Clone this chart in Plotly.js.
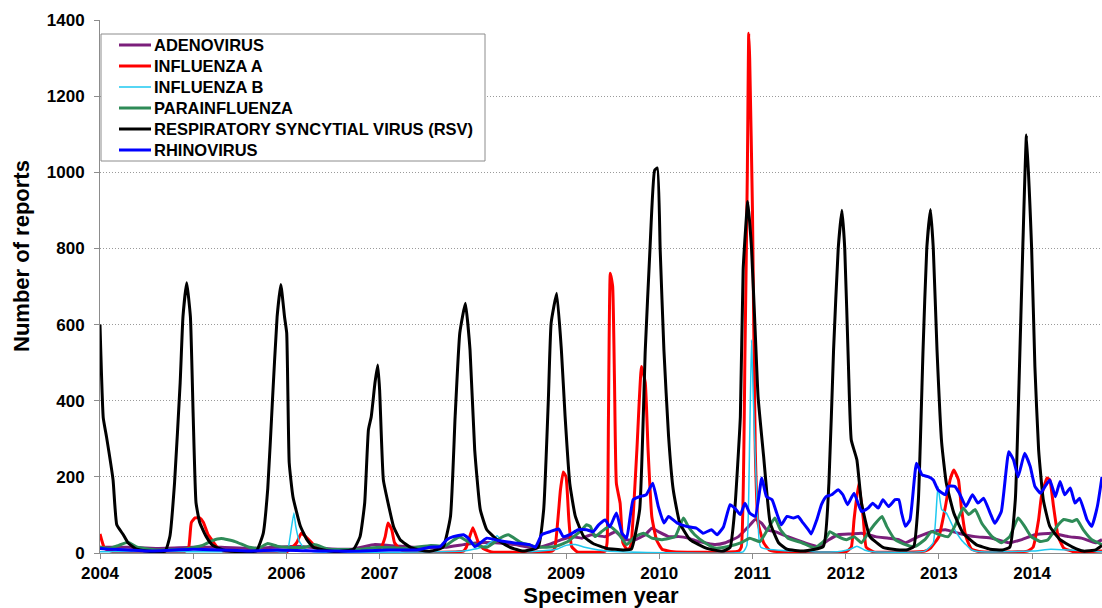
<!DOCTYPE html>
<html>
<head>
<meta charset="utf-8">
<script src="https://cdn.plot.ly/plotly-3.0.1.min.js"></script>
<style>html,body{margin:0;padding:0;background:#fff;}#chart{width:1102px;height:608px;}</style>
</head>
<body>
<div id="chart"></div>
<script>
// Tick labels
const yearTicks = [2004, 2005, 2006, 2007, 2008, 2009, 2010, 2011, 2012, 2013, 2014];

// Series names (legend order)
const seriesNames = ['ADENOVIRUS', 'INFLUENZA A', 'INFLUENZA B', 'PARAINFLUENZA', 'RESPIRATORY SYNCYTIAL VIRUS (RSV)', 'RHINOVIRUS'];

// ADENOVIRUS
const adenoX = [2004.0,2004.3,2004.6,2005.0,2005.3,2005.6,2005.9,2006.1,2006.4,2006.7,2006.95,2007.1,2007.4,2007.7,2007.9,2008.05,2008.24,2008.45,2008.67,2008.81,2008.95,2009.06,2009.17,2009.27,2009.42,2009.53,2009.63,2009.74,2009.85,2009.92,2009.99,2010.10,2010.21,2010.31,2010.42,2010.49,2010.60,2010.71,2010.85,2010.96,2011.03,2011.10,2011.15,2011.24,2011.38,2011.56,2011.71,2011.82,2011.92,2012.06,2012.17,2012.32,2012.46,2012.57,2012.64,2012.78,2012.92,2013.07,2013.21,2013.39,2013.57,2013.75,2013.89,2014.03,2014.21,2014.39,2014.53,2014.68,2014.75];
const adenoY = [15,15,12,15,15,12,15,18,12,10,22,20,15,15,22,27,27,22,13,22,35,43,39,48,43,56,35,35,48,65,56,43,43,39,30,27,22,27,43,70,88,78,61,56,43,27,17,35,48,50,52,43,39,35,27,43,56,61,52,43,39,27,35,48,52,43,39,27,35];

// INFLUENZA A
const fluAX = [2004.0,2004.05,2004.15,2004.9,2004.95,2004.98,2005.02,2005.07,2005.11,2005.16,2005.20,2005.25,2005.32,2006.0,2006.04,2006.11,2006.16,2006.22,2006.29,2006.36,2006.45,2006.95,2007.02,2007.06,2007.09,2007.13,2007.16,2007.22,2007.3,2007.9,2007.93,2008.0,2008.06,2008.11,2008.2,2008.85,2008.88,2008.94,2008.97,2009.0,2009.03,2009.06,2009.12,2009.42,2009.44,2009.455,2009.475,2009.50,2009.52,2009.54,2009.58,2009.61,2009.65,2009.68,2009.70,2009.76,2009.81,2009.85,2009.88,2009.92,2009.97,2010.03,2010.15,2010.85,2010.88,2010.92,2010.945,2010.96,2010.97,2011.0,2011.03,2011.06,2011.12,2011.18,2011.3,2012.0,2012.06,2012.09,2012.14,2012.19,2012.22,2012.3,2012.85,2012.91,2013.0,2013.07,2013.12,2013.16,2013.21,2013.24,2013.29,2013.35,2013.45,2013.95,2014.01,2014.07,2014.10,2014.16,2014.19,2014.23,2014.28,2014.34,2014.45,2014.75];
const fluAY = [50,12,3,3,13,80,92,92,80,48,35,17,5,3,10,27,52,40,22,8,3,5,17,43,79,61,27,10,3,5,15,66,27,12,3,5,13,166,213,200,88,17,3,5,27,358,735,700,447,183,131,27,10,12,27,271,490,447,271,96,35,10,3,5,15,533,1000,1365,1300,900,271,79,27,8,3,3,15,88,183,88,15,3,5,13,43,122,192,218,192,122,43,10,3,5,15,88,148,197,192,122,43,13,3,5];

// INFLUENZA B
const fluBX = [2004.0,2005.9,2006.0,2006.02,2006.08,2006.10,2006.14,2006.2,2006.3,2007.9,2008.1,2008.2,2008.26,2008.33,2008.45,2008.6,2008.9,2009.0,2009.1,2009.2,2009.35,2009.6,2010.9,2010.94,2010.97,2010.99,2011.01,2011.03,2011.06,2011.09,2011.9,2012.05,2012.12,2012.2,2012.3,2012.85,2012.94,2012.99,2013.03,2013.08,2013.15,2013.24,2013.35,2013.45,2014.0,2014.2,2014.4,2014.75];
const fluBY = [3,3,3,13,105,70,30,10,3,5,15,30,45,25,10,3,10,20,22,15,8,3,3,20,300,560,400,250,80,15,3,10,18,8,3,5,27,175,114,105,70,35,8,3,5,10,8,3];

// PARAINFLUENZA
const paraX = [2004.0,2004.1,2004.2,2004.3,2004.4,2004.6,2004.9,2005.1,2005.2,2005.3,2005.45,2005.6,2005.7,2005.8,2005.9,2006.0,2006.2,2006.3,2006.45,2006.8,2007.0,2007.3,2007.55,2007.7,2007.8,2007.86,2007.95,2008.05,2008.15,2008.3,2008.38,2008.52,2008.7,2008.88,2009.02,2009.17,2009.22,2009.26,2009.31,2009.38,2009.47,2009.56,2009.65,2009.74,2009.83,2009.92,2010.03,2010.17,2010.26,2010.31,2010.38,2010.49,2010.60,2010.74,2010.88,2010.97,2011.08,2011.17,2011.24,2011.30,2011.38,2011.53,2011.67,2011.78,2011.83,2011.92,2012.01,2012.09,2012.17,2012.24,2012.32,2012.39,2012.44,2012.53,2012.64,2012.74,2012.85,2012.92,2013.01,2013.10,2013.17,2013.26,2013.32,2013.39,2013.46,2013.57,2013.67,2013.76,2013.85,2013.92,2013.99,2014.09,2014.17,2014.28,2014.34,2014.43,2014.48,2014.55,2014.64,2014.75];
const paraY = [15,12,20,28,15,8,10,20,32,38,30,15,12,25,18,15,15,22,10,10,15,12,20,18,35,42,30,20,15,40,48,27,15,17,30,61,74,70,43,56,70,52,22,43,52,39,35,43,92,70,48,27,13,17,27,39,30,65,92,61,39,27,13,35,56,43,35,43,27,52,78,96,70,35,22,17,35,56,48,43,70,118,101,114,78,43,27,43,92,70,43,30,35,74,88,83,88,61,35,22];

// RESPIRATORY SYNCYTIAL VIRUS (RSV)
const rsvX = [2004.0,2004.035,2004.07,2004.14,2004.18,2004.25,2004.30,2004.39,2004.5,2004.6,2004.70,2004.75,2004.80,2004.86,2004.89,2004.93,2004.97,2005.0,2005.03,2005.07,2005.14,2005.21,2005.32,2005.45,2005.6,2005.68,2005.75,2005.80,2005.85,2005.90,2005.94,2005.98,2006.003,2006.03,2006.07,2006.15,2006.22,2006.29,2006.4,2006.55,2006.72,2006.79,2006.84,2006.88,2006.91,2006.95,2006.98,2007.0,2007.04,2007.09,2007.15,2007.22,2007.33,2007.43,2007.55,2007.68,2007.76,2007.81,2007.86,2007.92,2007.97,2008.02,2008.08,2008.15,2008.26,2008.40,2008.54,2008.70,2008.76,2008.81,2008.84,2008.90,2008.95,2008.99,2009.04,2009.10,2009.19,2009.29,2009.44,2009.61,2009.70,2009.79,2009.85,2009.90,2009.95,2009.98,2010.01,2010.05,2010.10,2010.15,2010.22,2010.33,2010.51,2010.68,2010.76,2010.81,2010.87,2010.90,2010.95,2010.99,2011.03,2011.06,2011.12,2011.19,2011.28,2011.37,2011.55,2011.76,2011.82,2011.87,2011.92,2011.96,2011.99,2012.03,2012.06,2012.12,2012.17,2012.26,2012.40,2012.51,2012.65,2012.73,2012.78,2012.83,2012.87,2012.91,2012.94,2012.98,2013.03,2013.08,2013.16,2013.26,2013.40,2013.55,2013.68,2013.76,2013.82,2013.86,2013.90,2013.94,2013.995,2014.03,2014.07,2014.12,2014.19,2014.30,2014.44,2014.55,2014.68,2014.75];
const rsvY = [600,355,305,192,74,48,27,10,5,3,5,44,185,447,620,710,620,358,132,80,43,20,8,4,3,6,50,170,400,620,705,620,578,237,148,70,35,15,8,4,10,43,132,324,358,447,494,428,192,132,69,35,15,8,5,15,96,358,578,656,533,271,114,61,35,15,5,15,114,402,604,682,533,358,183,96,43,25,12,8,10,114,533,796,1005,1011,796,533,306,166,79,35,12,5,15,114,358,744,923,800,578,411,253,79,27,10,5,17,183,533,800,900,800,490,297,245,131,43,15,10,8,17,140,533,800,902,800,533,289,183,105,52,22,10,8,15,140,447,800,1098,800,490,271,140,70,35,15,5,8,20];

// RHINOVIRUS
const rhinoX = [2004.0,2004.1,2004.3,2004.5,2004.8,2005.0,2005.3,2005.6,2005.9,2006.2,2006.5,2006.8,2007.1,2007.4,2007.54,2007.65,2007.72,2007.79,2007.90,2007.95,2008.02,2008.04,2008.15,2008.29,2008.43,2008.61,2008.67,2008.74,2008.83,2008.92,2008.97,2009.04,2009.13,2009.22,2009.29,2009.35,2009.42,2009.47,2009.54,2009.60,2009.65,2009.72,2009.79,2009.86,2009.93,2009.99,2010.05,2010.10,2010.19,2010.29,2010.40,2010.47,2010.56,2010.62,2010.69,2010.76,2010.81,2010.87,2010.92,2010.97,2011.03,2011.10,2011.15,2011.21,2011.26,2011.31,2011.37,2011.44,2011.49,2011.53,2011.60,2011.63,2011.69,2011.74,2011.79,2011.85,2011.92,2011.97,2012.02,2012.09,2012.17,2012.24,2012.29,2012.35,2012.40,2012.46,2012.53,2012.57,2012.60,2012.64,2012.69,2012.76,2012.82,2012.89,2012.94,2012.99,2013.07,2013.10,2013.17,2013.22,2013.29,2013.36,2013.42,2013.48,2013.55,2013.60,2013.67,2013.75,2013.80,2013.85,2013.92,2013.98,2014.03,2014.09,2014.14,2014.19,2014.25,2014.30,2014.35,2014.41,2014.46,2014.51,2014.59,2014.64,2014.70,2014.75];
const rhinoY = [12,10,8,5,8,10,8,5,8,6,5,5,8,8,15,17,35,43,48,39,17,19,39,32,27,22,15,48,56,63,43,48,61,61,56,74,87,69,105,52,39,140,148,153,183,122,79,96,79,70,65,52,61,48,69,127,118,101,131,105,96,197,148,140,105,74,96,92,96,83,61,50,87,127,148,153,166,153,127,157,109,118,131,118,140,122,140,140,105,70,87,236,205,200,192,166,153,175,175,157,122,153,131,144,105,78,109,266,245,200,262,227,175,157,175,192,148,188,153,171,131,144,87,70,122,200];

const FONT = 'Liberation Sans, Arial, sans-serif';
const seriesColors = ['#7B1F7B', '#FF0000', '#1EC8F0', '#2E8B57', '#000000', '#0000FF'];
const seriesWidths = [3, 3, 1.5, 3, 3, 3];
const seriesX = [adenoX, fluAX, fluBX, paraX, rsvX, rhinoX];
const seriesY = [adenoY, fluAY, fluBY, paraY, rsvY, rhinoY];

const traces = seriesNames.map((n, i) => ({
  type: 'scatter', mode: 'lines', name: n, x: seriesX[i], y: seriesY[i],
  line: {color: seriesColors[i], width: seriesWidths[i], shape: 'spline', smoothing: 0.4},
  showlegend: false
}));

// Legend and y title placed in pixel-derived paper coordinates
const W = 1102, H = 608, ML = 100, MT = 20, MB = 55;
const pw = W - ML, ph = H - MT - MB;
const px = x => (x - ML) / pw;
const py = y => (H - MB - y) / ph;

const shapes = [{
  type: 'rect', xref: 'paper', yref: 'paper',
  x0: px(101), x1: px(485), y0: py(161), y1: py(34),
  line: {color: '#8c8c8c', width: 1}, fillcolor: '#ffffff', layer: 'above'
}];
const annotations = [];
seriesNames.forEach((n, i) => {
  const yc = 45 + 21 * i;
  shapes.push({
    type: 'line', xref: 'paper', yref: 'paper',
    x0: px(119), x1: px(151), y0: py(yc), y1: py(yc),
    line: {color: seriesColors[i], width: seriesWidths[i]}, layer: 'above'
  });
  annotations.push({
    xref: 'paper', yref: 'paper', x: px(152), y: py(yc),
    xanchor: 'left', yanchor: 'middle', showarrow: false,
    text: n, font: {family: FONT, size: 16.5, weight: 'bold', color: '#000'}
  });
});
annotations.push({
  xref: 'paper', yref: 'paper', x: px(21), y: py(256),
  xanchor: 'center', yanchor: 'middle', showarrow: false, textangle: -90,
  text: 'Number of reports', font: {family: FONT, size: 22, weight: 'bold', color: '#000'}
});

const layout = {
  width: W, height: H,
  margin: {l: ML, r: 0, t: MT, b: MB},
  paper_bgcolor: '#ffffff', plot_bgcolor: '#ffffff',
  font: {family: FONT, color: '#000'},
  showlegend: false,
  shapes: shapes,
  annotations: annotations,
  xaxis: {
    type: 'linear', range: [2004, 2014.75],
    tickvals: yearTicks, ticktext: yearTicks.map(String),
    showgrid: false, zeroline: false,
    showline: true, linecolor: '#8c8c8c', linewidth: 1,
    ticks: 'outside', ticklen: 5, tickcolor: '#8c8c8c',
    tickfont: {family: FONT, size: 17, weight: 'bold', color: '#000'},
    title: {text: 'Specimen year', font: {family: FONT, size: 22, weight: 'bold', color: '#000'}, standoff: 6},
    automargin: false
  },
  yaxis: {
    range: [0, 1400], dtick: 200, tick0: 0,
    showgrid: true, gridcolor: '#9a9a9a', griddash: '1px,2px', gridwidth: 1,
    zeroline: false,
    showline: true, linecolor: '#8c8c8c', linewidth: 1,
    ticks: 'outside', ticklen: 5, tickcolor: '#8c8c8c',
    ticklabelstandoff: 6,
    tickfont: {family: FONT, size: 17, weight: 'bold', color: '#000'},
    automargin: false
  }
};

Plotly.newPlot('chart', traces, layout, {displayModeBar: false, staticPlot: true});
</script>
</body>
</html>
